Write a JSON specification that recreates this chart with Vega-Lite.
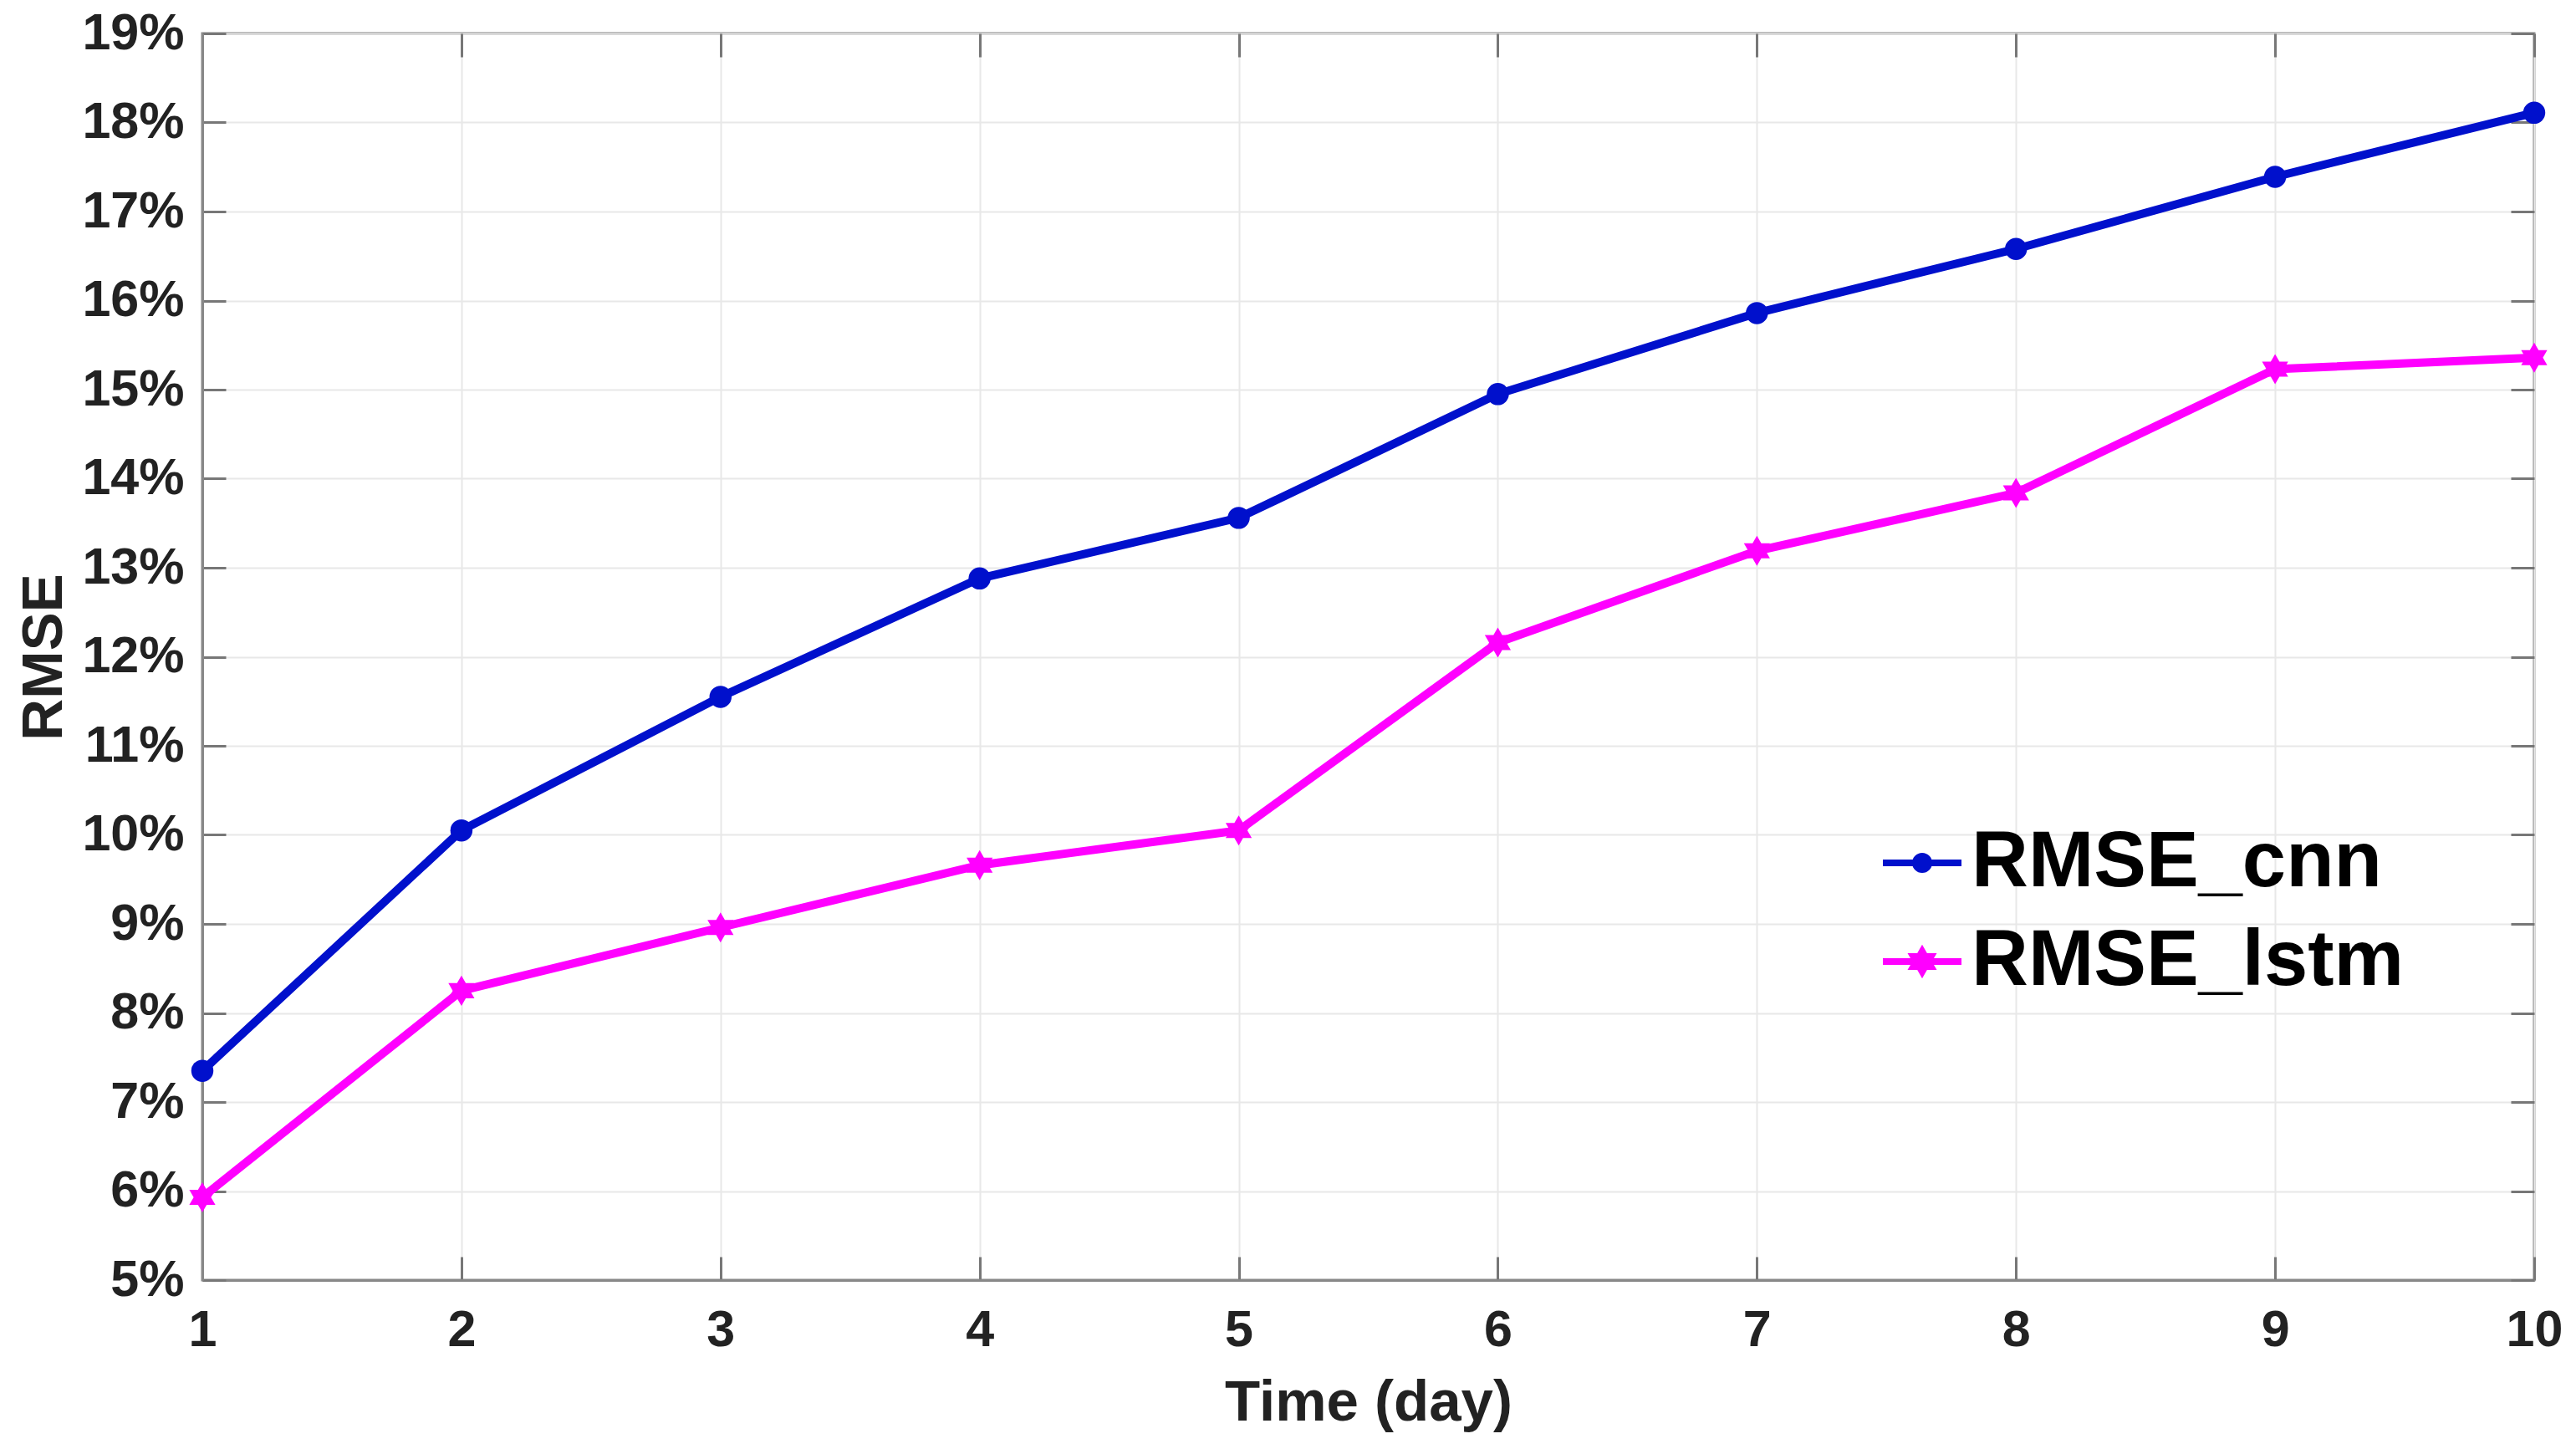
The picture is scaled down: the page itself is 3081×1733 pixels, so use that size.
{
  "$schema": "https://vega.github.io/schema/vega-lite/v6.json",
  "autosize": {"type": "none"},
  "width": 2789,
  "height": 1491,
  "padding": {"left": 242, "top": 40, "right": 50, "bottom": 202},
  "background": "white",
  "config": {
    "font": "Liberation Sans",
    "view": {"stroke": "#888888", "strokeWidth": 3},
    "axis": {
      "labelFont": "Liberation Sans",
      "labelFontWeight": "bold",
      "labelFontSize": 61,
      "labelColor": "#222222",
      "titleFont": "Liberation Sans",
      "titleFontWeight": "bold",
      "titleFontSize": 69,
      "titleColor": "#222222",
      "gridColor": "#e8e8e8",
      "gridWidth": 2,
      "domainColor": "#888888",
      "domainWidth": 3,
      "tickColor": "#777777",
      "tickWidth": 3
    }
  },
  "data": {
    "values": [
      {"day": 1, "series": "RMSE_cnn", "rmse": 7.35},
      {"day": 2, "series": "RMSE_cnn", "rmse": 10.05},
      {"day": 3, "series": "RMSE_cnn", "rmse": 11.55},
      {"day": 4, "series": "RMSE_cnn", "rmse": 12.88},
      {"day": 5, "series": "RMSE_cnn", "rmse": 13.56},
      {"day": 6, "series": "RMSE_cnn", "rmse": 14.95},
      {"day": 7, "series": "RMSE_cnn", "rmse": 15.86},
      {"day": 8, "series": "RMSE_cnn", "rmse": 16.58},
      {"day": 9, "series": "RMSE_cnn", "rmse": 17.39},
      {"day": 10, "series": "RMSE_cnn", "rmse": 18.11},
      {"day": 1, "series": "RMSE_lstm", "rmse": 5.93},
      {"day": 2, "series": "RMSE_lstm", "rmse": 8.25},
      {"day": 3, "series": "RMSE_lstm", "rmse": 8.96},
      {"day": 4, "series": "RMSE_lstm", "rmse": 9.66},
      {"day": 5, "series": "RMSE_lstm", "rmse": 10.05},
      {"day": 6, "series": "RMSE_lstm", "rmse": 12.16},
      {"day": 7, "series": "RMSE_lstm", "rmse": 13.19},
      {"day": 8, "series": "RMSE_lstm", "rmse": 13.84},
      {"day": 9, "series": "RMSE_lstm", "rmse": 15.23},
      {"day": 10, "series": "RMSE_lstm", "rmse": 15.36}
    ]
  },
  "resolve": {"axis": {"x": "independent", "y": "independent"}},
  "layer": [
    {
      "mark": {"type": "point", "opacity": 0},
      "encoding": {
        "x": {
          "field": "day", "type": "quantitative",
          "scale": {"domain": [1, 10], "nice": false, "zero": false},
          "axis": {"orient": "top", "title": null, "labels": false, "grid": true, "domain": false, "values": [1, 2, 3, 4, 5, 6, 7, 8, 9, 10], "tickSize": -28}
        },
        "y": {
          "field": "rmse", "type": "quantitative",
          "scale": {"domain": [5, 19], "nice": false, "zero": false},
          "axis": {"orient": "right", "title": null, "labels": false, "grid": true, "domain": false, "values": [5, 6, 7, 8, 9, 10, 11, 12, 13, 14, 15, 16, 17, 18, 19], "tickSize": -28}
        }
      }
    },
    {
      "encoding": {
        "x": {
          "field": "day", "type": "quantitative",
          "scale": {"domain": [1, 10], "nice": false, "zero": false},
          "axis": {
            "orient": "bottom",
            "title": "Time (day)",
            "grid": false,
            "values": [1, 2, 3, 4, 5, 6, 7, 8, 9, 10],
            "tickSize": -28,
            "labelPadding": 58,
            "titlePadding": 22,
            "labelFlush": false
          }
        },
        "y": {
          "field": "rmse", "type": "quantitative",
          "scale": {"domain": [5, 19], "nice": false, "zero": false},
          "axis": {
            "orient": "left",
            "title": "RMSE",
            "grid": false,
            "values": [5, 6, 7, 8, 9, 10, 11, 12, 13, 14, 15, 16, 17, 18, 19],
            "labelExpr": "datum.value + '%'",
            "tickSize": -28,
            "labelPadding": 50,
            "titlePadding": 10,
            "labelFlush": false
          }
        },
        "color": {
          "field": "series", "type": "nominal",
          "scale": {"domain": ["RMSE_cnn", "RMSE_lstm"], "range": ["#0010cc", "#ff00ff"]},
          "legend": {
            "title": null,
            "orient": "none",
            "legendX": 2006,
            "legendY": 941,
            "labelFont": "Liberation Sans",
            "labelFontWeight": "bold",
            "labelFontSize": 94,
            "labelColor": "#000000",
            "labelLimit": 1000,
            "labelOffset": 8,
            "symbolSize": 8836,
            "symbolStrokeWidth": 8,
            "rowPadding": 20,
            "encode": {
              "symbols": {
                "update": {
                  "shape": {"signal": "datum.value == 'RMSE_cnn' ? 'M-1,0H1M-0.17,0A0.17,0.17 0 1,0 0.17,0A0.17,0.17 0 1,0 -0.17,0Z' : 'M-1,0H1M0,-0.26L-0.075,-0.13L-0.225,-0.13L-0.15,0L-0.225,0.13L-0.075,0.13L0,0.26L0.075,0.13L0.225,0.13L0.15,0L0.225,-0.13L0.075,-0.13Z'"},
                  "fill": {"signal": "scale('color', datum.value)"},
                  "stroke": {"signal": "scale('color', datum.value)"},
                  "opacity": {"value": 1}
                }
              }
            }
          }
        }
      },
      "layer": [
        {
          "mark": {"type": "line", "strokeWidth": 10, "clip": false}
        },
        {
          "transform": [{"filter": "datum.series == 'RMSE_cnn'"}],
          "mark": {"type": "point", "shape": "circle", "filled": true, "opacity": 1, "size": 700, "clip": false}
        },
        {
          "transform": [{"filter": "datum.series == 'RMSE_lstm'"}],
          "mark": {"type": "point", "shape": "M0,-1L-0.289,-0.5L-0.866,-0.5L-0.577,0L-0.866,0.5L-0.289,0.5L0,1L0.289,0.5L0.866,0.5L0.577,0L0.866,-0.5L0.289,-0.5Z", "filled": true, "opacity": 1, "size": 1300, "clip": false}
        }
      ]
    }
  ]
}
